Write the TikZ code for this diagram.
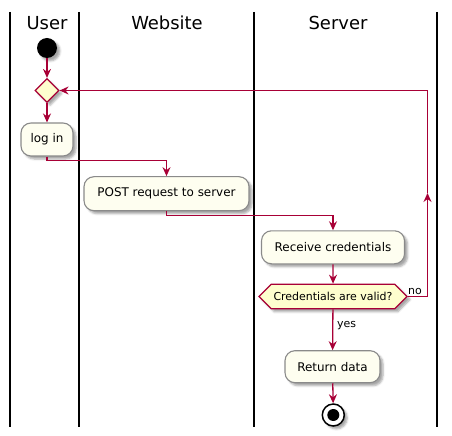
\documentclass[tikz,border=0pt]{standalone}
\usepackage{fontspec}
\setmainfont{DejaVu Sans}
\usepackage{tikz}
\usetikzlibrary{arrows.meta,shapes.geometric,shapes.symbols,shadows.blur}
\definecolor{umlred}{HTML}{A80036}
\definecolor{umlbox}{HTML}{FEFEF0}
\definecolor{umldiam}{HTML}{FEFECE}
\definecolor{umlgray}{HTML}{8A8A8A}

\begin{document}
\begin{tikzpicture}[x=1bp,y=-1bp,
	shadowed/.style={blur shadow={shadow xshift=3bp,shadow yshift=-3bp,shadow blur radius=2bp,shadow opacity=35}},
	act/.style={draw=umlgray,fill=umlbox,rounded corners=10bp,line width=1.1bp,inner sep=0pt,
		minimum height=33bp,font=\fontsize{12}{14}\selectfont,shadowed},
	flow/.style={color=umlred,line width=1.3bp,-{Stealth[length=9bp,width=8bp,inset=3bp]}},
	lane/.style={line width=1.5bp},
	title/.style={anchor=base,font=\fontsize{18}{20}\selectfont},
	small/.style={anchor=west,inner sep=0pt,font=\fontsize{11}{13}\selectfont}]

	\useasboundingbox (0,0) rectangle (452,436);

	\foreach \x in {10,79,254,437}
		\draw[lane] (\x,12) -- (\x,427);
	\node[title] (user) at (47,29.3) {User};
	\node[title] (site) at (167,29.3) {Website};
	\node[title] (server) at (338,29.3) {Server};

	\node[circle,fill=black,minimum size=20bp,inner sep=0pt,shadowed] (start) at (47,48) {};
	\node[diamond,draw=umlred,fill=umldiam,line width=1.2bp,minimum width=24bp,minimum height=24bp,inner sep=0pt,shadowed] (merge) at (47,90.5) {};
	\node[act,minimum width=52bp] (login) at (47,139.5) {log in};
	\node[act,minimum width=165bp,minimum height=34bp] (post) at (166.5,193.7) {POST request to server};
	\node[act,minimum width=143bp] (recv) at (333,247.3) {Receive credentials};
	\node[signal,signal to=east and west,signal pointer angle=90,draw=umlred,fill=umldiam,line width=1.2bp,
		minimum width=148bp,minimum height=24.5bp,inner xsep=0pt,inner ysep=0pt,font=\fontsize{11}{13}\selectfont,shadowed] (valid) at (333,296.5) {Credentials are valid?};
	\node[act,minimum width=95bp,minimum height=32bp] (ret) at (332.5,366.7) {Return data};
	\node[circle,draw=black,fill=white,line width=1.5bp,minimum size=22bp,inner sep=0pt,shadowed] (stop) at (333.3,415) {};
	\fill (stop.center) circle (6bp);

	\coordinate (turn) at (427.5,193);
	\coordinate (bend1) at (47,160.5);
	\coordinate (bend2) at (166.5,215.5);

	\draw[flow] (start) -- (merge);
	\draw[flow] (merge) -- (login);
	\draw[flow] (login.south) -- (bend1) -| (post.north);
	\draw[flow] (post.south) -- (bend2) -| (recv.north);
	\draw[flow] (recv) -- (valid);
	\draw[flow] (valid.east) -| (turn);
	\draw[flow] (turn) |- (merge.east);
	\draw[flow] (valid) -- (ret);
	\draw[flow] (ret) -- (stop);

	\node[small,anchor=base west] (no) at (408,294) {no};
	\node[small] (yes) at (337,326) {yes};

\end{tikzpicture}
\end{document}
